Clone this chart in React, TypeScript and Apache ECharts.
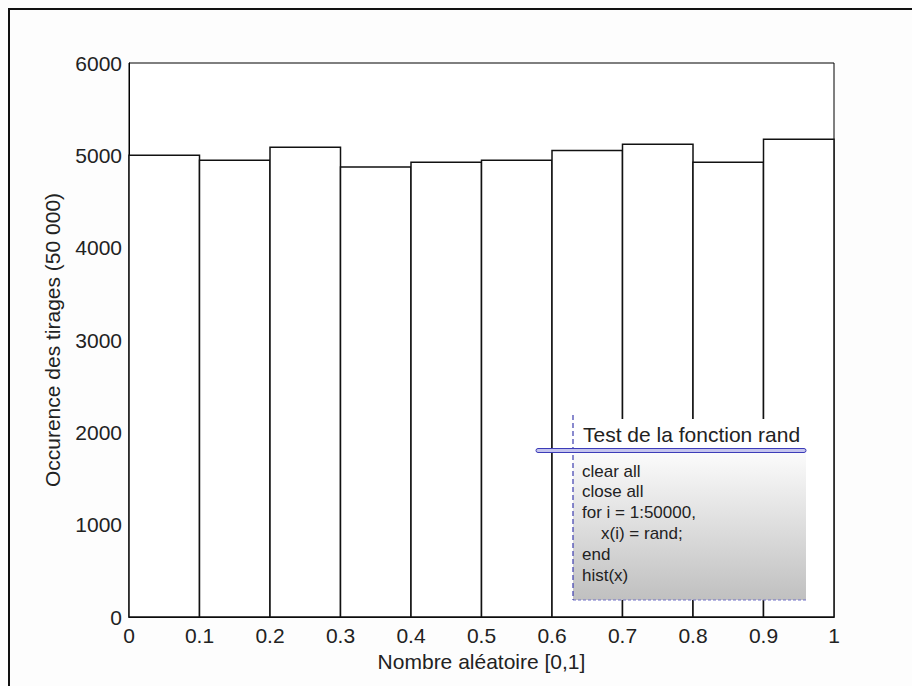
import React, { useEffect, useRef } from "react";
import * as echarts from "echarts";

const binEdges = [0, 0.1, 0.2, 0.3, 0.4, 0.5, 0.6, 0.7, 0.8, 0.9, 1];
const counts = [5000, 4946, 5087, 4874, 4924, 4946, 5051, 5119, 4924, 5173];
const xTitle = "Nombre aléatoire [0,1]";
const yTitle = "Occurence des tirages (50 000)";
const noteTitle = "Test de la fonction rand";
const codeLines = ["clear all", "close all", "for i = 1:50000,", "    x(i) = rand;", "end", "hist(x)"];

const FONT = "'Liberation Sans', Arial, sans-serif";

export default function App() {
  const ref = useRef<HTMLDivElement>(null);
  useEffect(() => {
    document.body.style.margin = "0";
    const chart = echarts.init(ref.current!, null, { renderer: "svg" });
    const data = counts.map((c, i) => [binEdges[i], binEdges[i + 1], c]);
    const codeEls = codeLines.map((t, i) => ({
      type: "text",
      x: t.startsWith(" ") ? 601 : 582,
      y: 471 + i * 20.8,
      z: 20,
      style: {
        text: t.trim(),
        fontSize: 17,
        fontFamily: FONT,
        fill: "#222",
        verticalAlign: "middle",
      },
    }));
    chart.setOption({
      animation: false,
      backgroundColor: "#fdfdfd",
      grid: {
        left: 129,
        right: 78,
        top: 63,
        bottom: 69,
        show: true,
        backgroundColor: "#ffffff",
        borderColor: "#000",
        borderWidth: 1,
      },
      xAxis: {
        type: "value",
        min: 0,
        max: 1,
        interval: 0.1,
        name: xTitle,
        nameLocation: "middle",
        nameGap: 34,
        nameTextStyle: { fontSize: 21, fontFamily: FONT, color: "#222" },
        axisLine: { show: true, onZero: false, lineStyle: { color: "#000", width: 1 } },
        axisTick: { show: false },
        splitLine: { show: false },
        axisLabel: {
          fontSize: 21,
          fontFamily: FONT,
          color: "#222",
          margin: 8,
          formatter: (v: number) => String(+v.toFixed(1)),
        },
      },
      yAxis: {
        type: "value",
        min: 0,
        max: 6000,
        interval: 1000,
        name: yTitle,
        nameLocation: "middle",
        nameGap: 66,
        nameTextStyle: { fontSize: 21, fontFamily: FONT, color: "#222" },
        axisLine: { show: true, lineStyle: { color: "#000", width: 1 } },
        axisTick: { show: false },
        splitLine: { show: false },
        axisLabel: {
          fontSize: 21,
          fontFamily: FONT,
          color: "#222",
          margin: 7,
          formatter: (v: number) => String(v),
        },
      },
      series: [
        {
          type: "custom",
          data,
          encode: { x: [0, 1], y: 2 },
          renderItem: (params: any, api: any) => {
            const p0 = api.coord([api.value(0), 0]);
            const p1 = api.coord([api.value(1), api.value(2)]);
            return {
              type: "rect",
              shape: { x: p0[0], y: p1[1], width: p1[0] - p0[0], height: p0[1] - p1[1] },
              style: { fill: "#fff", stroke: "#111", lineWidth: 1.5 },
            };
          },
        },
      ],
      graphic: [
        {
          type: "rect",
          x: 9,
          y: 9,
          z: 30,
          shape: { width: 1000, height: 1000 },
          style: { fill: "none", stroke: "#111", lineWidth: 2 },
        },
        {
          type: "rect",
          x: 573,
          y: 419,
          z: 10,
          shape: { width: 233, height: 34 },
          style: { fill: "#ffffff" },
        },
        {
          type: "rect",
          x: 573,
          y: 453,
          z: 10,
          shape: { width: 233, height: 147 },
          style: {
            fill: new echarts.graphic.LinearGradient(0, 0, 0, 1, [
              { offset: 0, color: "#fbfbfb" },
              { offset: 1, color: "#c0c0c0" },
            ]),
          },
        },
        {
          type: "line",
          z: 12,
          shape: { x1: 573, y1: 600, x2: 806, y2: 600 },
          style: { stroke: "#7070c8", lineWidth: 1, lineDash: [3, 2] },
        },
        {
          type: "line",
          z: 12,
          shape: { x1: 573, y1: 415, x2: 573, y2: 600 },
          style: { stroke: "#3c3cae", lineWidth: 1.2, lineDash: [5, 3] },
        },
        {
          type: "rect",
          x: 536,
          y: 448.5,
          z: 14,
          shape: { width: 270, height: 4, r: 2 },
          style: { fill: "#c4c4ee", stroke: "#3c3cb8", lineWidth: 1 },
        },
        {
          type: "text",
          x: 583,
          y: 434,
          z: 20,
          style: {
            text: noteTitle,
            fontSize: 21,
            fontFamily: FONT,
            fill: "#222",
            verticalAlign: "middle",
          },
        },
        ...codeEls,
      ],
    });
    return () => chart.dispose();
  }, []);
  return <div ref={ref} style={{ width: 912, height: 686 }} />;
}
